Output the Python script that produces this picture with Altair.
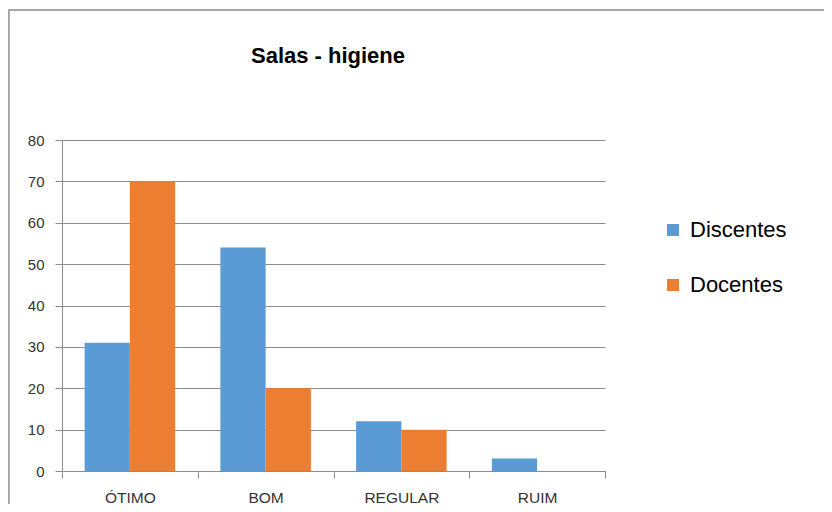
import altair as alt
import pandas as pd

categorias = ["ÓTIMO", "BOM", "REGULAR", "RUIM"]
series = ["Discentes", "Docentes"]
discentes = [31, 54, 12, 3]
docentes = [70, 20, 10, 0]
y_ticks = [0, 10, 20, 30, 40, 50, 60, 70, 80]
cores = ["#5B9BD5", "#ED7D31"]
titulo = "Salas - higiene"

rows = []
for c, d1, d2 in zip(categorias, discentes, docentes):
    rows.append({"categoria": c, "grupo": series[0], "valor": d1})
    rows.append({"categoria": c, "grupo": series[1], "valor": d2})
df = pd.DataFrame(rows)

GRID = "#8c8c8c"

bars = alt.Chart(df).mark_bar().encode(
    x=alt.X(
        "categoria:N",
        sort=categorias,
        scale=alt.Scale(paddingInner=0, paddingOuter=0),
        axis=alt.Axis(
            title=None,
            labelAngle=0,
            tickBand="extent",
            tickSize=7,
            tickColor=GRID,
            domainColor=GRID,
            labelFont="Liberation Sans",
            labelFontSize=15.5,
            labelColor="#333333",
            labelPadding=12,
            grid=False,
        ),
    ),
    xOffset=alt.XOffset(
        "grupo:N", sort=series, scale=alt.Scale(paddingInner=0, paddingOuter=0.5)
    ),
    y=alt.Y(
        "valor:Q",
        scale=alt.Scale(domain=[0, 80], nice=False),
        axis=alt.Axis(
            title=None,
            values=y_ticks,
            tickSize=7,
            tickColor=GRID,
            domainColor=GRID,
            gridColor=GRID,
            labelFont="Liberation Sans",
            labelFontSize=15,
            labelColor="#333333",
            labelPadding=11,
        ),
    ),
    color=alt.Color(
        "grupo:N",
        sort=series,
        scale=alt.Scale(domain=series, range=cores),
        legend=alt.Legend(
            title=None,
            orient="none",
            legendX=600,
            legendY=79,
            symbolType="square",
            symbolSize=144,
            symbolStrokeWidth=0,
            labelFont="Liberation Sans",
            labelFontSize=22,
            labelColor="#000000",
            labelOffset=6,
            rowPadding=33,
            padding=0,
        ),
    ),
)

title_mark = alt.Chart(pd.DataFrame({"t": [titulo]})).mark_text(
    font="Liberation Sans",
    fontSize=22,
    fontWeight="bold",
    color="#000000",
    align="center",
    baseline="alphabetic",
).encode(text="t:N", x=alt.value(266), y=alt.value(-77))

border_top = alt.Chart(df).mark_rule(color="#a6a6a6", strokeWidth=1.5).encode(
    x=alt.value(-54), x2=alt.value(770), y=alt.value(-130)
)
border_left = alt.Chart(df).mark_rule(color="#a6a6a6", strokeWidth=1.5).encode(
    x=alt.value(-53.5), y=alt.value(-130), y2=alt.value(372)
)

chart = (
    alt.layer(border_top, border_left, title_mark, bars)
    .properties(
        width=543,
        height=331,
        autosize=alt.AutoSizeParams(type="none"),
        padding={"left": 54, "top": 132, "right": 219, "bottom": 33},
        background="white",
    )
    .configure_view(stroke=None)
)

chart.save("out.html", embed_options={"renderer": "svg", "actions": False})
